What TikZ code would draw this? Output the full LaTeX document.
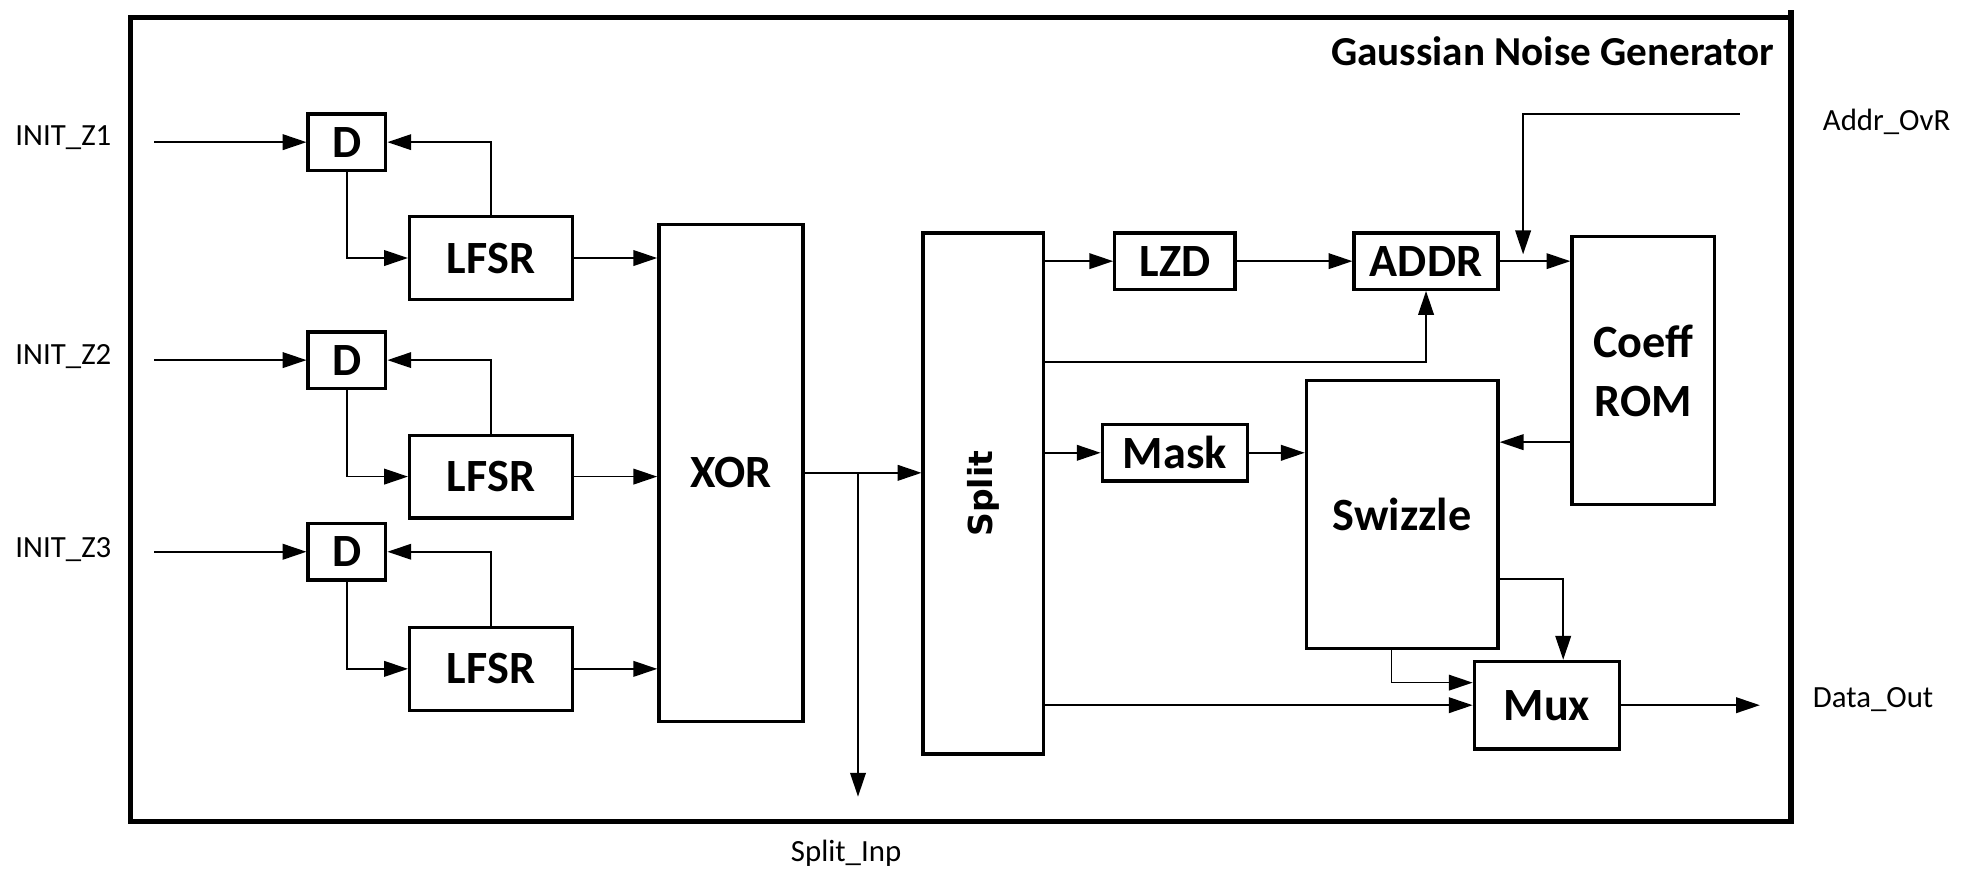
\documentclass[tikz,border=0pt]{standalone}
\usepackage{fontspec}
\setmainfont{Carlito}
\newfontfamily\splitfont{DejaVu Sans}
\usepackage{graphicx}
\usepackage{tikz}
\usetikzlibrary{arrows.meta}

\begin{document}
\begin{tikzpicture}[
    reg/.style={draw, line width=1.5pt, inner sep=0pt, minimum width=1.24cm,
                minimum height=0.9cm, font=\bfseries\fontsize{21}{25}\selectfont},
    lfsr/.style={draw, line width=1.5pt, inner sep=0pt, minimum width=2.6cm,
                 minimum height=1.32cm, font=\bfseries\fontsize{21}{25}\selectfont},
    block/.style={draw, line width=1.5pt, inner sep=0pt, align=center,
                  font=\bfseries\fontsize{21}{27}\selectfont},
    port/.style={inner sep=0pt, font=\fontsize{14}{17}\selectfont},
    frame/.style={line width=2.5pt},
    link/.style={-{Triangle[length=0.38cm, width=0.25cm]}, line width=0.75pt}]
    \useasboundingbox (0,0) rectangle (31.36,-13.86);

    \draw[frame] (28.60,-0.16) -- (28.60,-13.12) -- (2.08,-13.12) -- (2.08,-0.28) -- (28.60,-0.28);
    \node[anchor=base east, inner sep=0pt, font=\bfseries\fontsize{18.7}{22}\selectfont]
      (title) at (28.34,-1.04) {Gaussian Noise Generator};

    \node[reg]  (d1)    at (5.54,-2.27)  {D};
    \node[lfsr] (lfsr1) at (7.84,-4.12)  {LFSR};
    \node[reg]  (d2)    at (5.54,-5.75)  {D};
    \node[lfsr] (lfsr2) at (7.84,-7.61)  {LFSR};
    \node[reg]  (d3)    at (5.54,-8.81)  {D};
    \node[lfsr] (lfsr3) at (7.84,-10.68) {LFSR};

    \node[block, minimum width=2.30cm, minimum height=7.94cm] (xor) at (11.67,-7.55) {XOR};
    \node[block, minimum width=1.92cm, minimum height=8.32cm] (split) at (15.70,-7.88)
      {\rotatebox{90}{\splitfont\bfseries\fontsize{15}{18}\selectfont Split}};
    \node[block, minimum width=1.92cm, minimum height=0.90cm] (lzd)  at (18.76,-4.17) {LZD};
    \node[block, minimum width=2.30cm, minimum height=0.90cm] (addr) at (22.77,-4.17) {ADDR};
    \node[block, minimum width=2.28cm, minimum height=4.28cm] (rom)  at (26.24,-5.92) {Coeff\\ROM};
    \node[block, minimum width=2.32cm, minimum height=0.90cm] (mask) at (18.76,-7.23) {Mask};
    \node[block, minimum width=3.06cm, minimum height=4.28cm] (swz)  at (22.39,-8.22) {Swizzle};
    \node[block, minimum width=2.32cm, minimum height=1.40cm] (mux)  at (24.70,-11.26) {Mux};

    \node[port, anchor=base west] (z1) at (0.24,-2.32)  {INIT\_Z1};
    \node[port, anchor=base west] (z2) at (0.24,-5.82)  {INIT\_Z2};
    \node[port, anchor=base west] (z3) at (0.24,-8.90)  {INIT\_Z3};
    \node[port, anchor=base]      (sinp) at (13.51,-13.76) {Split\_Inp};
    \node[port, anchor=base west] (aovr) at (29.10,-2.09) {Addr\_OvR};
    \node[port, anchor=base west] (dout) at (28.94,-11.30) {Data\_Out};

    \coordinate (in1) at (2.46,-2.27);
    \coordinate (in2) at (2.46,-5.75);
    \coordinate (in3) at (2.46,-8.81);
    \coordinate (tap) at (13.70,-7.55);
    \coordinate (inp) at (13.70,-12.72);
    \coordinate (sa) at (0,-5.78);
    \coordinate (ovr) at (27.78,-1.82);
    \coordinate (ovrin) at (24.32,-4.06);
    \coordinate (romout) at (0,-7.06);
    \coordinate (swzout) at (24.96,-9.24);
    \coordinate (swzdn) at (22.22,-10.90);
    \coordinate (out) at (28.10,-11.26);

    \draw[link] (in1) -- (d1.west);
    \draw[link] (in2) -- (d2.west);
    \draw[link] (in3) -- (d3.west);
    \draw[link] (d1.south) |- (lfsr1.west);
    \draw[link] (d2.south) |- (lfsr2.west);
    \draw[link] (d3.south) |- (lfsr3.west);
    \draw[link] (lfsr1.north) |- (d1.east);
    \draw[link] (lfsr2.north) |- (d2.east);
    \draw[link] (lfsr3.north) |- (d3.east);
    \draw[link] (lfsr1.east) -- (lfsr1.east -| xor.west);
    \draw[link] (lfsr2.east) -- (lfsr2.east -| xor.west);
    \draw[link] (lfsr3.east) -- (lfsr3.east -| xor.west);
    \draw[link] (xor.east) -- (xor.east -| split.west);
    \draw[link] (tap) -- (inp);
    \draw[link] (split.east |- lzd.west) -- (lzd.west);
    \draw[link] (lzd.east) -- (addr.west);
    \draw[link] (split.east |- sa) -| (addr.south);
    \draw[link] (addr.east) -- (addr.east -| rom.west);
    \draw[link] (ovr) -| (ovrin);
    \draw[link] (split.east |- mask.west) -- (mask.west);
    \draw[link] (mask.east) -- (mask.east -| swz.west);
    \draw[link] (rom.west |- romout) -- (swz.east |- romout);
    \draw[link] (swz.east |- swzout) -| (mux.north -| swzout);
    \draw[link] (swz.south -| swzdn) |- (mux.west |- swzdn);
    \draw[link] (split.east |- mux.west) -- (mux.west);
    \draw[link] (mux.east) -- (out);
\end{tikzpicture}
\end{document}
